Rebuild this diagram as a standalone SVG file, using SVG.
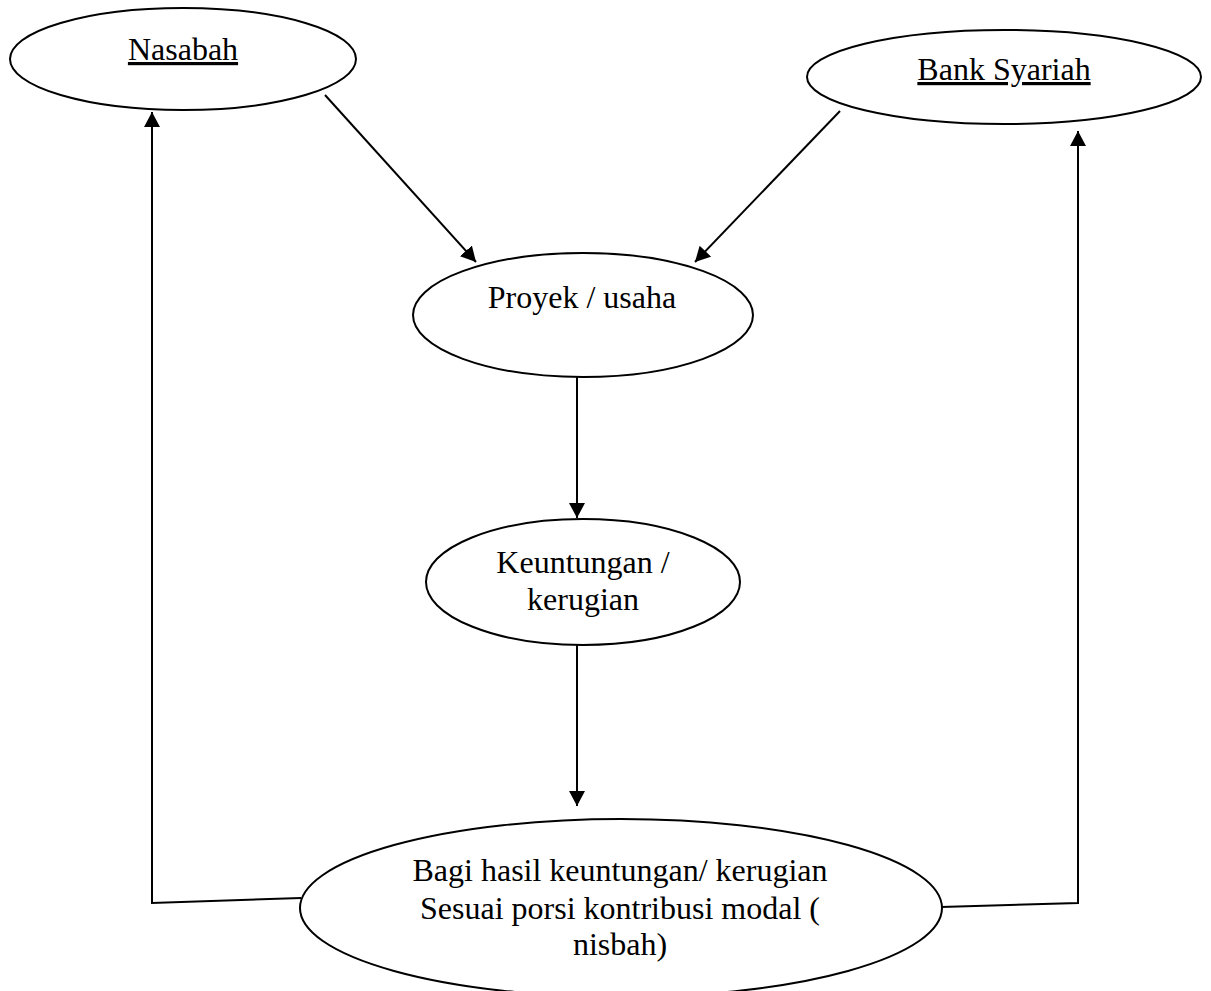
<svg xmlns="http://www.w3.org/2000/svg" width="1211" height="991" viewBox="0 0 1211 991">
<style>
.node{fill:#fff;stroke:#000;stroke-width:2}
.lbl{font-family:"Liberation Serif","Times New Roman",serif;font-size:32px;fill:#000;text-anchor:middle}
.u{text-decoration:underline}
.con{fill:none;stroke:#000;stroke-width:2}
</style>
<defs>
<marker id="ah" markerUnits="userSpaceOnUse" markerWidth="17" markerHeight="17" refX="15" refY="8" orient="auto">
<path d="M0,0 L15,8 L0,16 Z" fill="#000"/>
</marker>
</defs>
<rect width="1211" height="991" fill="#fff"/>
<g id="connectors">
<line class="con" x1="325" y1="95" x2="476" y2="262" marker-end="url(#ah)"/>
<line class="con" x1="840" y1="111" x2="695" y2="262" marker-end="url(#ah)"/>
<line class="con" x1="577" y1="377" x2="577" y2="518" marker-end="url(#ah)"/>
<line class="con" x1="577" y1="645" x2="577" y2="806" marker-end="url(#ah)"/>
<polyline class="con" points="301,898 152,903 152,112" marker-end="url(#ah)"/>
<polyline class="con" points="941,907 1078,903 1078,131" marker-end="url(#ah)"/>
</g>
<g id="nasabah">
<ellipse class="node" cx="183" cy="59" rx="173" ry="51"/>
<text class="lbl u" x="183" y="60">Nasabah</text>
</g>
<g id="bank-syariah">
<ellipse class="node" cx="1004" cy="77" rx="197" ry="47"/>
<text class="lbl u" x="1004" y="80">Bank Syariah</text>
</g>
<g id="proyek">
<ellipse class="node" cx="583" cy="315" rx="170" ry="62"/>
<text class="lbl" x="582" y="308">Proyek / usaha</text>
</g>
<g id="keuntungan">
<ellipse class="node" cx="583" cy="582" rx="157" ry="63"/>
<text class="lbl" x="583" y="573">Keuntungan /</text>
<text class="lbl" x="583" y="610">kerugian</text>
</g>
<g id="bagi-hasil">
<ellipse class="node" cx="621" cy="908" rx="321" ry="89"/>
<text class="lbl" x="620" y="881">Bagi hasil keuntungan/ kerugian</text>
<text class="lbl" x="620" y="919">Sesuai porsi kontribusi modal (</text>
<text class="lbl" x="620" y="955">nisbah)</text>
</g>
</svg>
